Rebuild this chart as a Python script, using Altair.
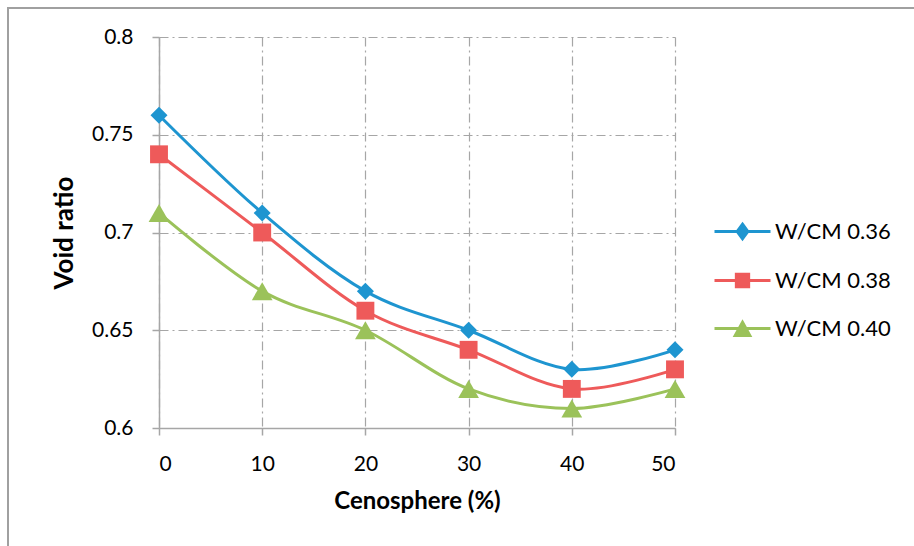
import altair as alt
import pandas as pd

# ---- data ----
cenosphere = [0, 10, 20, 30, 40, 50]
wcm_036 = [0.76, 0.71, 0.67, 0.65, 0.63, 0.64]
wcm_038 = [0.74, 0.70, 0.66, 0.64, 0.62, 0.63]
wcm_040 = [0.71, 0.67, 0.65, 0.62, 0.61, 0.62]
series_names = ["W/CM 0.36", "W/CM 0.38", "W/CM 0.40"]
x_ticks = [0, 10, 20, 30, 40, 50]
y_ticks = [0.6, 0.65, 0.7, 0.75, 0.8]

rows = []
for name, vals in zip(series_names, [wcm_036, wcm_038, wcm_040]):
    for x, v in zip(cenosphere, vals):
        rows.append({"Cenosphere": x, "Void": v, "Series": name})
df = pd.DataFrame(rows)

colors = ["#1E95D0", "#EE5A5A", "#9BC25A"]
FONT = "Lato"
GRID = "#A6A6A6"

xscale = alt.Scale(domain=[0, 50], nice=False, zero=False)
yscale = alt.Scale(domain=[0.6, 0.8], nice=False, zero=False)

xenc = alt.X(
    "Cenosphere:Q",
    scale=xscale,
    axis=alt.Axis(values=x_ticks, title="Cenosphere (%)", format="d",
                  labelPadding=18, titlePadding=15, titleFontSize=24),
)
yenc = alt.Y(
    "Void:Q",
    scale=yscale,
    axis=alt.Axis(values=y_ticks, title="Void ratio", format=".2~f",
                  labelPadding=19, titlePadding=14, titleFontSize=26),
)

# legend glyphs: a line segment with the series marker on it (SVG paths, unit = half width)
legend_paths = [
    "M-1,0L1,0M0,-0.26L0.19,0L0,0.26L-0.19,0Z",
    "M-1,0L1,0M-0.22,-0.22L0.22,-0.22L0.22,0.22L-0.22,0.22Z",
    "M-1,0L1,0M0,-0.22L0.26,0.25L-0.26,0.25Z",
]

shape_specs = [("diamond", 290), ("square", 320), ("triangle-up", 430)]
line_layers = []
point_layers = []
for name, col, (shp, sz) in zip(series_names, colors, shape_specs):
    base = alt.Chart(df).transform_filter(alt.datum.Series == name)
    line_layers.append(
        base.mark_line(interpolate="cardinal", strokeWidth=3, color=col).encode(
            x=xenc, y=yenc
        )
    )
    point_layers.append(
        base.mark_point(filled=True, opacity=1, shape=shp, size=sz, color=col).encode(
            x="Cenosphere:Q", y="Void:Q"
        )
    )

leg = alt.Legend(
    title=None,
    orient="none",
    legendX=554,
    legendY=165,
    symbolSize=3136,
    symbolStrokeWidth=3,
    symbolOpacity=1,
    labelFont=FONT,
    labelFontSize=22,
    labelColor="#000000",
    labelOffset=3,
    rowPadding=6,
)

legend_layer = alt.Chart(df).mark_point(filled=True, opacity=0, strokeWidth=3).encode(
    x="Cenosphere:Q",
    y="Void:Q",
    color=alt.Color("Series:N", scale=alt.Scale(domain=series_names, range=colors), legend=leg),
    stroke=alt.Stroke("Series:N", scale=alt.Scale(domain=series_names, range=colors), legend=leg),
    shape=alt.Shape("Series:N", scale=alt.Scale(domain=series_names, range=legend_paths), legend=leg),
)

frame = alt.Chart(df).mark_rect(
    fill="transparent", stroke="#A0A0A0", strokeWidth=1.5
).encode(
    x=alt.value(-151), x2=alt.value(900), y=alt.value(-29), y2=alt.value(700)
)

chart = (
    alt.layer(frame, *line_layers, *point_layers, legend_layer)
    .properties(
        width=516,
        height=391,
        autosize=alt.AutoSizeParams(type="none"),
        padding={"left": 159, "top": 37, "right": 239, "bottom": 118},
        background="white",
    )
    .configure_view(stroke=None)
    .configure_axis(
        labelFont=FONT,
        labelFontSize=21,
        labelColor="#000000",
        titleFont=FONT,
        titleFontWeight="bold",
        titleColor="#000000",
        domainColor=GRID,
        domainWidth=1.5,
        tickColor=GRID,
        tickWidth=1.5,
        tickSize=7,
        grid=True,
        gridColor=GRID,
        gridWidth=1.2,
        gridDash=[9, 4, 2, 4],
    )
)

chart.save("out.html", embed_options={"renderer": "svg", "actions": False})
